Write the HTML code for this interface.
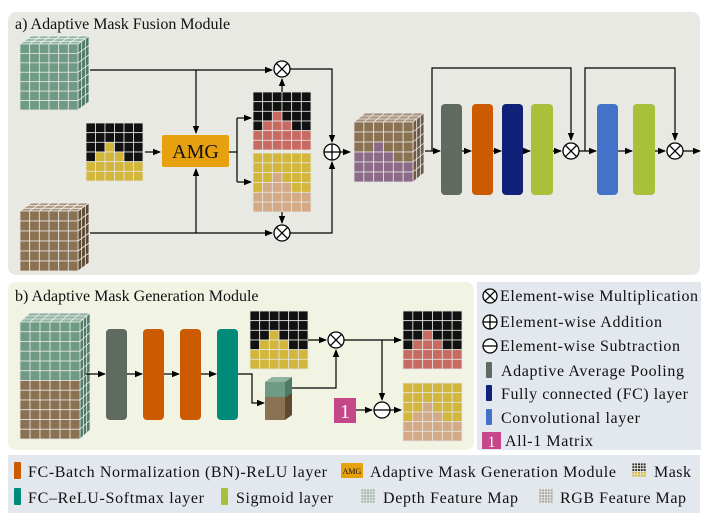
<!DOCTYPE html>
<html><head><meta charset="utf-8"><style>
body{margin:0;background:#fff}
svg{display:block;font-family:"Liberation Serif",serif}
</style></head><body>
<svg id="s" width="706" height="518" viewBox="0 0 706 518" xmlns="http://www.w3.org/2000/svg">
<defs>
<marker id="ar" markerWidth="8" markerHeight="8" refX="7" refY="4" orient="auto" markerUnits="userSpaceOnUse"><path d="M0,0.8 L8,4 L0,7.2z" fill="#000"/></marker>
</defs>
<rect x="8" y="12" width="692" height="263" rx="8" fill="#e8e9e2"/>
<rect x="8" y="282" width="466" height="168" rx="8" fill="#f1f4e3"/>
<rect x="477" y="282" width="224" height="168" fill="#e3e7ee"/>
<rect x="8" y="455" width="692" height="58" fill="#e3e7ee"/>
<text x="15" y="29" font-size="16" fill="#111">a) Adaptive Mask Fusion Module</text>
<text x="15" y="301" font-size="16" fill="#111">b) Adaptive Mask Generation Module</text>
<g id="g"></g>
<g fill="none" stroke="#000" stroke-width="1.2">
<polyline points="90,70 272,70" marker-end="url(#ar)"/>
<polyline points="196,70 196,133" marker-end="url(#ar)"/>
<polyline points="90,233 272,233" marker-end="url(#ar)"/>
<polyline points="196,233 196,169" marker-end="url(#ar)"/>
<polyline points="145,152 160,152" marker-end="url(#ar)"/>
<polyline points="229,152 237,152"/>
<polyline points="237,118 237,182"/>
<polyline points="237,118 251,118" marker-end="url(#ar)"/>
<polyline points="237,182 251,182" marker-end="url(#ar)"/>
<polyline points="282,92 282,79" marker-end="url(#ar)"/>
<polyline points="282,212 282,223" marker-end="url(#ar)"/>
<polyline points="290,69 332,69 332,142" marker-end="url(#ar)"/>
<polyline points="290,233 332,233 332,162" marker-end="url(#ar)"/>
<polyline points="340,152 350,152" marker-end="url(#ar)"/>
<polyline points="425,151 440,151" marker-end="url(#ar)"/>
<polyline points="432,151 432,68 571,68 571,140" marker-end="url(#ar)"/>
<polyline points="462,151 471,151" marker-end="url(#ar)"/>
<polyline points="493,151 501,151" marker-end="url(#ar)"/>
<polyline points="523,151 530,151" marker-end="url(#ar)"/>
<polyline points="553,151 561,151" marker-end="url(#ar)"/>
<polyline points="579,151 596,151" marker-end="url(#ar)"/>
<polyline points="585,151 585,68 675,68 675,140" marker-end="url(#ar)"/>
<polyline points="618,151 632,151" marker-end="url(#ar)"/>
<polyline points="655,151 665,151" marker-end="url(#ar)"/>
<polyline points="683,151 700,151" marker-end="url(#ar)"/>
<polyline points="86,374 105,374" marker-end="url(#ar)"/>
<polyline points="127,374 142,374" marker-end="url(#ar)"/>
<polyline points="164,374 179,374" marker-end="url(#ar)"/>
<polyline points="201,374 216,374" marker-end="url(#ar)"/>
<polyline points="238,374 252,374 252,403 264,403" marker-end="url(#ar)"/>
<polyline points="292,388 336,388 336,350" marker-end="url(#ar)"/>
<polyline points="308,340 326,340" marker-end="url(#ar)"/>
<polyline points="344,340 401,340" marker-end="url(#ar)"/>
<polyline points="382,340 382,400" marker-end="url(#ar)"/>
<polyline points="356,410 372,410" marker-end="url(#ar)"/>
<polyline points="390,410 401,410" marker-end="url(#ar)"/>
</g>
<rect x="162" y="135" width="67" height="32" rx="2" fill="#e7a10f"/>
<text x="195.5" y="158" font-size="20" text-anchor="middle" fill="#111">AMG</text>
<rect x="441" y="104" width="21" height="91" rx="4" fill="#5f6a60"/>
<rect x="472" y="104" width="21" height="91" rx="4" fill="#cc5a00"/>
<rect x="502" y="104" width="21" height="91" rx="4" fill="#10217a"/>
<rect x="531" y="104" width="22" height="91" rx="4" fill="#a9c13a"/>
<rect x="597" y="104" width="21" height="91" rx="4" fill="#4472c8"/>
<rect x="633" y="104" width="22" height="91" rx="4" fill="#a9c13a"/>
<rect x="106" y="329" width="21" height="91" rx="4" fill="#5f6a60"/>
<rect x="143" y="329" width="21" height="91" rx="4" fill="#cc5a00"/>
<rect x="180" y="329" width="21" height="91" rx="4" fill="#cc5a00"/>
<rect x="217" y="329" width="21" height="91" rx="4" fill="#008a7a"/>
<polygon points="265,382 285,382 292,377 272,377" fill="#8fb5a2"/>
<polygon points="285,382 292,377 292,393 285,397" fill="#4f7a66"/>
<polygon points="285,397 292,393 292,415 285,420" fill="#5e4a33"/>
<rect x="265" y="382" width="20" height="15" fill="#6f9a85"/>
<rect x="265" y="397" width="20" height="23" fill="#8a7152"/>
<rect x="334" y="398" width="22" height="25" fill="#c5478a"/>
<text x="345" y="418" font-size="20" text-anchor="middle" fill="#fff">1</text>
<g id="ops" fill="#fff" stroke="#000" stroke-width="1.3"></g>
<g font-size="16" fill="#111">
<text x="500" y="301" textLength="198">Element-wise Multiplication</text>
<text x="500" y="327" textLength="162">Element-wise Addition</text>
<text x="500" y="351" textLength="180">Element-wise Subtraction</text>
<rect x="486" y="362" width="6" height="16" rx="1" fill="#5f6a60"/>
<text x="501" y="376" textLength="183">Adaptive Average Pooling</text>
<rect x="486" y="385" width="6" height="16" rx="1" fill="#10217a"/>
<text x="501" y="399" textLength="187">Fully connected (FC) layer</text>
<rect x="486" y="409" width="6" height="16" rx="1" fill="#4472c8"/>
<text x="501" y="423" textLength="139">Convolutional layer</text>
<rect x="482" y="432" width="19" height="17" fill="#c5478a"/>
<text x="491.5" y="447" font-size="16" text-anchor="middle" fill="#fff">1</text>
<text x="505" y="446" textLength="88">All-1 Matrix</text>
</g>
<g font-size="16" fill="#111">
<rect x="14" y="462" width="7" height="17" rx="1" fill="#cc5a00"/>
<text x="28" y="477" textLength="299">FC-Batch Normalization (BN)-ReLU layer</text>
<rect x="341" y="463" width="22" height="15" rx="1" fill="#e7a10f"/>
<text x="352" y="474" font-size="8" text-anchor="middle">AMG</text>
<text x="370" y="477" textLength="246">Adaptive Mask Generation Module</text>
<text x="654" y="477" textLength="37">Mask</text>
<rect x="14" y="488" width="7" height="17" rx="1" fill="#008a7a"/>
<text x="28" y="503" textLength="176">FC–ReLU-Softmax layer</text>
<rect x="221" y="488" width="7" height="17" rx="1" fill="#a9c13a"/>
<text x="236" y="503" textLength="97">Sigmoid layer</text>
<text x="383" y="503" textLength="135">Depth Feature Map</text>
<text x="560" y="503" textLength="126">RGB Feature Map</text>
</g>
</svg>
<script>
var NS="http://www.w3.org/2000/svg",G=document.getElementById("g"),O=document.getElementById("ops");
function el(t,a,p){var e=document.createElementNS(NS,t);for(var k in a)e.setAttribute(k,a[k]);(p||G).appendChild(e);return e;}
var C={k:"#111",y:"#d2b73c",r:"#c96a62",t:"#d3aa85",g:"#6f9a85",b:"#8a7152",p:"#8c6b88"};
function grid(x,y,cols,rows,w,h,f){var cw=w/cols,ch=h/rows;for(var r=0;r<rows;r++)for(var c=0;c<cols;c++)el("rect",{x:x+c*cw,y:y+r*ch,width:cw,height:ch,fill:f(r,c),stroke:"#e4e4e0",'stroke-width':0.8});}
function cube(x,y,w,h,cols,rows,dx,dy,f,top,side){
 el("polygon",{points:[x,y,x+w,y,x+w+dx,y-dy,x+dx,y-dy].join(","),fill:top,stroke:"#eee","stroke-width":0.8});
 for(var c=1;c<cols;c++){var xx=x+c*w/cols;el("line",{x1:xx,y1:y,x2:xx+dx,y2:y-dy,stroke:"#eee","stroke-width":0.8});}
 for(var i=1;i<3;i++){el("line",{x1:x+dx*i/3,y1:y-dy*i/3,x2:x+w+dx*i/3,y2:y-dy*i/3,stroke:"#eee","stroke-width":0.8});}
 el("polygon",{points:[x+w,y,x+w+dx,y-dy,x+w+dx,y+h-dy,x+w,y+h].join(","),fill:side,stroke:"#eee","stroke-width":0.8});
 for(var r=1;r<rows;r++){var yy=y+r*h/rows;el("line",{x1:x+w,y1:yy,x2:x+w+dx,y2:yy-dy,stroke:"#eee","stroke-width":0.8});}
 for(var i=1;i<3;i++){el("line",{x1:x+w+dx*i/3,y1:y-dy*i/3,x2:x+w+dx*i/3,y2:y+h-dy*i/3,stroke:"#eee","stroke-width":0.8});}
 grid(x,y,cols,rows,w,h,f);}
function maskF(a,b){return function(r,c){if(r<2)return a;if(r==2)return c==2?b:a;if(r==3)return(c>=1&&c<=3)?b:a;return b;};}
cube(20,44,58,66,6,7,11,8,function(){return C.g},"#8fb5a2","#4f7a66");
cube(20,211,58,60,6,6,11,8,function(){return C.b},"#a8937a","#5e4a33");
grid(86,123,6,6,57,58,maskF(C.k,C.y));
grid(253,92,6,6,58,58,maskF(C.k,C.r));
grid(253,153,6,6,58,59,maskF(C.y,C.t));
cube(354,122,59,60,6,6,11,9,function(r,c){if(r<2)return C.b;if(r==2)return c==2?C.p:C.b;if(r==3)return c<=3?C.p:C.b;return C.p;},"#a8937a","#6e5a42");
cube(20,322,60,117,6,12,10,9,function(r){return r<6?C.g:C.b},"#8fb5a2","#4f7a66");
grid(250,311,6,6,58,58,maskF(C.k,C.y));
grid(403,311,6,6,59,58,maskF(C.k,C.r));
grid(403,383,6,6,59,58,maskF(C.y,C.t));
grid(632,463,5,5,14,14,function(r){return r<3?"#333":C.y});
grid(361,489,5,5,14,14,function(){return "#9fb4ae"});
grid(539,489,5,5,14,14,function(){return "#a8a8a8"});
function op(cx,cy,t,r){var R=r||8,d=R*0.707;el("circle",{cx:cx,cy:cy,r:R},O);
 if(t=="x"){el("line",{x1:cx-d,y1:cy-d,x2:cx+d,y2:cy+d},O);el("line",{x1:cx-d,y1:cy+d,x2:cx+d,y2:cy-d},O);}
 if(t=="+"){el("line",{x1:cx-R,y1:cy,x2:cx+R,y2:cy},O);el("line",{x1:cx,y1:cy-R,x2:cx,y2:cy+R},O);}
 if(t=="-"){el("line",{x1:cx-R,y1:cy,x2:cx+R,y2:cy},O);}}
op(282,69,"x");op(282,233,"x");op(332,152,"+");op(571,151,"x");op(675,151,"x");
op(336,340,"x");op(382,410,"-");
op(490,296,"x",7);op(490,322,"+",7);op(490,346,"-",7);
</script>
</body></html>
